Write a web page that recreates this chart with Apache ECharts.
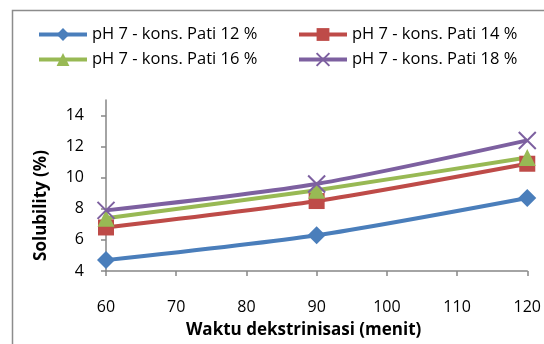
<!DOCTYPE html>
<html>
<head>
<meta charset="utf-8">
<script src="https://cdn.jsdelivr.net/npm/echarts@6/dist/echarts.min.js"></script>
<style>
  html, body { margin: 0; padding: 0; background: #ffffff; }
  #chart { width: 544px; height: 344px; }
</style>
</head>
<body>
<div id="chart"></div>
<script>
// Dextrinisation time (minutes)
var waktu = [60, 90, 120];

// Solubility (%) per starch concentration at pH 7
var pati12 = [4.7, 6.3, 8.7];
var pati14 = [6.8, 8.5, 10.9];
var pati16 = [7.4, 9.2, 11.3];
var pati18 = [7.9, 9.6, 12.4];

var seriesNames = [
  'pH 7 - kons. Pati 12 %',
  'pH 7 - kons. Pati 14 %',
  'pH 7 - kons. Pati 16 %',
  'pH 7 - kons. Pati 18 %'
];

var yTicks = [4, 6, 8, 10, 12, 14];

var FONT = '"Open Sans", sans-serif';
var crossPath = 'path://M0,0L10,10M10,0L0,10';

function pairs(vals) {
  return waktu.map(function (x, i) { return [x, vals[i]]; });
}

function makeSeries(name, vals, color, symbol, size, extra) {
  var s = {
    name: name,
    type: 'line',
    smooth: 0.25,
    data: pairs(vals),
    symbol: symbol,
    symbolSize: size,
    lineStyle: { color: color, width: 4 },
    itemStyle: { color: color },
    z: 3
  };
  if (extra) { for (var k in extra) s[k] = extra[k]; }
  return s;
}

// Two legend columns, each a vertical stack of two entries
function legendColumn(left, names) {
  return {
    orient: 'vertical',
    left: left,
    top: 21,
    itemGap: 8,
    itemWidth: 48,
    itemHeight: 16,
    lineStyle: { width: 4 },
    textStyle: { fontFamily: FONT, fontSize: 16.5, color: '#000000' },
    data: names.map(function (n) { return { name: n }; })
  };
}

var chart = echarts.init(document.getElementById('chart'), null, { renderer: 'canvas' });

chart.setOption({
  animation: false,
  backgroundColor: '#ffffff',
  graphic: [{
    type: 'rect',
    shape: { x: 12.5, y: 10.5, width: 560, height: 360 },
    style: { fill: 'none', stroke: '#8c8c8c', lineWidth: 1.5 },
    silent: true,
    z: 0
  }],
  legend: [
    legendColumn(32, [seriesNames[0], seriesNames[2]]),
    legendColumn(292, [seriesNames[1], seriesNames[3]])
  ],
  grid: { left: 106, right: 16, top: 100, bottom: 71 },
  xAxis: {
    type: 'value',
    min: 60,
    max: 120,
    interval: 10,
    name: 'Waktu dekstrinisasi (menit)',
    nameLocation: 'middle',
    nameGap: 51,
    nameTextStyle: { fontFamily: FONT, fontSize: 17, fontWeight: 'bold', color: '#000000', padding: [0, 26, 0, 0] },
    axisLine: { lineStyle: { color: '#868686', width: 1.5 } },
    axisTick: { show: true, inside: false, length: 5, lineStyle: { color: '#868686', width: 1.5 } },
    axisLabel: { fontFamily: FONT, fontSize: 16, color: '#000000', margin: 28 },
    splitLine: { show: false }
  },
  yAxis: {
    type: 'value',
    min: 4,
    max: 15,
    interval: 2,
    name: 'Solubility (%)',
    nameLocation: 'middle',
    nameGap: 56,
    nameRotate: 90,
    nameTextStyle: { fontFamily: FONT, fontSize: 17, fontWeight: 'bold', color: '#000000', padding: [0, 40, 0, 0] },
    axisLine: { show: true, lineStyle: { color: '#868686', width: 1.5 } },
    axisTick: { show: true, inside: false, length: 5, customValues: yTicks, lineStyle: { color: '#868686', width: 1.5 } },
    axisLabel: { fontFamily: FONT, fontSize: 16, color: '#000000', margin: 22, customValues: yTicks },
    splitLine: { show: false }
  },
  series: [
    makeSeries(seriesNames[0], pati12, '#4a7ebb', 'diamond', 18),
    makeSeries(seriesNames[1], pati14, '#be4b48', 'rect', 16),
    makeSeries(seriesNames[2], pati16, '#98b954', 'triangle', 17),
    makeSeries(seriesNames[3], pati18, '#7d60a0', crossPath, 17, {
      itemStyle: { color: '#7d60a0', borderColor: '#7d60a0', borderWidth: 2 }
    })
  ]
});
</script>
</body>
</html>
